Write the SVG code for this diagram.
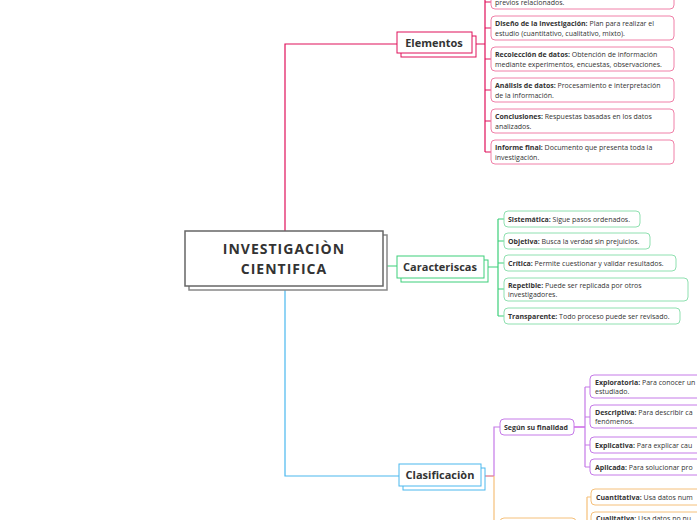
<svg xmlns="http://www.w3.org/2000/svg" width="697" height="520" viewBox="0 0 697 520">
<style>
text{font-family:"Open Sans","Liberation Sans",sans-serif;fill:#333}
.leaf{font-size:7px}
.b{font-weight:bold}
.main{font-size:11px;font-weight:bold;text-anchor:middle}
.c{fill:none;stroke-width:1.2}
.lf{fill:#fff;stroke-width:1}
</style>
<rect width="697" height="520" fill="#fff"/>
<g id="connectors">
<path class="c" stroke="#e0105a" stroke-width="2" d="M285,231V44H397"/>
<path class="c" stroke="#e0105a" stroke-width="2" d="M472,44H485M485,0V152"/>
<path class="c" stroke="#e0105a" d="M485,28H491M485,59H491M485,90H491M485,121H491M485,152H491M485,2H491"/>
<path class="c" stroke="#3ccf7a" stroke-width="1.5" d="M383,266H397M484,267H498"/>
<path class="c" stroke="#3ccf7a" d="M498,219V316M498,219H504M498,241H504M498,263H504M498,289H504M498,316H504"/>
<path class="c" stroke="#4ab8ee" stroke-width="1.5" d="M285,286V476H399"/>
<path class="c" stroke="#e07080" d="M481,476H494"/>
<path class="c" stroke="#c57ae8" d="M494,476V427H500"/>
<path class="c" stroke="#f5c07a" d="M494,476V520"/>
<path class="c" stroke="#c040e0" stroke-width="1.5" d="M574,427H585"/>
<path class="c" stroke="#c57ae8" d="M585,387V467M585,387H590M585,417H590M585,445H590M585,467H590"/>
<path class="c" stroke="#f5c07a" d="M587,497V520M587,497H591"/>
</g>
<g id="central">
<rect x="189" y="235" width="198" height="55" fill="#fff" stroke="#888" stroke-width="1.5"/>
<rect x="185" y="231" width="198" height="55" fill="#fff" stroke="#666" stroke-width="1.5"/>
<text class="main" x="284" y="254" style="font-size:14px;letter-spacing:1px">INVESTIGACIÒN</text>
<text class="main" x="284" y="274" style="font-size:14px;letter-spacing:1px">CIENTIFICA</text>
</g>
<g id="elementos">
<rect x="401" y="36" width="75" height="21" fill="#fff" stroke="#e0105a"/>
<rect x="397" y="32" width="75" height="21" fill="#fff" stroke="#e0105a"/>
<text class="main" x="434" y="47">Elementos</text>
</g>
<g id="e1"><rect class="lf" x="491" y="-15" width="183" height="24" rx="4" stroke="#f080a8"/><text class="leaf" x="495" y="5">previos relacionados.</text></g>
<g id="e2"><rect class="lf" x="491" y="16" width="183" height="24" rx="4" stroke="#f080a8"/><text class="leaf" x="495" y="26"><tspan class="b">Diseño de la investigación:</tspan> Plan para realizar el</text><text class="leaf" x="495" y="36">estudio (cuantitativo, cualitativo, mixto).</text></g>
<g id="e3"><rect class="lf" x="491" y="47" width="183" height="24" rx="4" stroke="#f080a8"/><text class="leaf" x="495" y="57"><tspan class="b">Recolección de datos:</tspan> Obtención de información</text><text class="leaf" x="495" y="67">mediante experimentos, encuestas, observaciones.</text></g>
<g id="e4"><rect class="lf" x="491" y="78" width="183" height="24" rx="4" stroke="#f080a8"/><text class="leaf" x="495" y="88"><tspan class="b">Análisis de datos:</tspan> Procesamiento e interpretación</text><text class="leaf" x="495" y="98">de la información.</text></g>
<g id="e5"><rect class="lf" x="491" y="109" width="183" height="24" rx="4" stroke="#f080a8"/><text class="leaf" x="495" y="119"><tspan class="b">Conclusiones:</tspan> Respuestas basadas en los datos</text><text class="leaf" x="495" y="129">analizados.</text></g>
<g id="e6"><rect class="lf" x="491" y="140" width="183" height="24" rx="4" stroke="#f080a8"/><text class="leaf" x="495" y="150"><tspan class="b">Informe final:</tspan> Documento que presenta toda la</text><text class="leaf" x="495" y="160">investigación.</text></g>
<g id="caracteriscas">
<rect x="401" y="260" width="87" height="22" fill="#fff" stroke="#3ccf7a"/>
<rect x="397" y="256" width="87" height="22" fill="#fff" stroke="#3ccf7a"/>
<text class="main" x="440" y="271">Caracteriscas</text>
</g>
<g id="c1"><rect class="lf" x="504" y="211" width="136" height="16" rx="4" stroke="#8fe0b0"/><text class="leaf" x="508" y="222"><tspan class="b">Sistemática:</tspan> Sigue pasos ordenados.</text></g>
<g id="c2"><rect class="lf" x="504" y="233" width="146" height="16" rx="4" stroke="#8fe0b0"/><text class="leaf" x="508" y="244"><tspan class="b">Objetiva:</tspan> Busca la verdad sin prejuicios.</text></g>
<g id="c3"><rect class="lf" x="504" y="255" width="172" height="16" rx="4" stroke="#8fe0b0"/><text class="leaf" x="508" y="266"><tspan class="b">Crítica:</tspan> Permite cuestionar y validar resultados.</text></g>
<g id="c4"><rect class="lf" x="504" y="278" width="184" height="23" rx="4" stroke="#8fe0b0"/><text class="leaf" x="508" y="288"><tspan class="b">Repetible:</tspan> Puede ser replicada por otros</text><text class="leaf" x="508" y="297">investigadores.</text></g>
<g id="c5"><rect class="lf" x="504" y="308" width="176" height="16" rx="4" stroke="#8fe0b0"/><text class="leaf" x="508" y="319"><tspan class="b">Transparente:</tspan> Todo proceso puede ser revisado.</text></g>
<g id="clasificacion">
<rect x="403" y="468" width="82" height="22" fill="#fff" stroke="#4ab8ee"/>
<rect x="399" y="464" width="82" height="22" fill="#fff" stroke="#4ab8ee"/>
<text class="main" x="440" y="479">Clasificaciòn</text>
</g>
<g id="finalidad"><rect class="lf" x="500" y="419" width="74" height="16" rx="4" stroke="#c57ae8"/><text class="leaf b" x="504" y="430">Según su finalidad</text></g>
<g id="f1"><rect class="lf" x="590" y="375" width="130" height="23" rx="4" stroke="#c57ae8"/><text class="leaf" x="595" y="385"><tspan class="b">Exploratoria:</tspan> Para conocer un</text><text class="leaf" x="595" y="394">estudiado.</text></g>
<g id="f2"><rect class="lf" x="590" y="405" width="130" height="23" rx="4" stroke="#c57ae8"/><text class="leaf" x="595" y="415"><tspan class="b">Descriptiva:</tspan> Para describir ca</text><text class="leaf" x="595" y="424">fenómenos.</text></g>
<g id="f3"><rect class="lf" x="590" y="437" width="130" height="16" rx="4" stroke="#c57ae8"/><text class="leaf" x="595" y="448"><tspan class="b">Explicativa:</tspan> Para explicar cau</text></g>
<g id="f4"><rect class="lf" x="590" y="459" width="130" height="16" rx="4" stroke="#c57ae8"/><text class="leaf" x="595" y="470"><tspan class="b">Aplicada:</tspan> Para solucionar pro</text></g>
<g id="tipo"><rect class="lf" x="500" y="518" width="76" height="16" rx="4" stroke="#f5c07a"/></g>
<g id="t1"><rect class="lf" x="591" y="489" width="130" height="16" rx="4" stroke="#f5c07a"/><text class="leaf" x="596" y="500"><tspan class="b">Cuantitativa:</tspan> Usa datos num</text></g>
<g id="t2"><rect class="lf" x="591" y="512" width="130" height="16" rx="4" stroke="#f5c07a"/><text class="leaf" x="596" y="521"><tspan class="b">Cualitativa:</tspan> Usa datos no nu</text></g>
</svg>
